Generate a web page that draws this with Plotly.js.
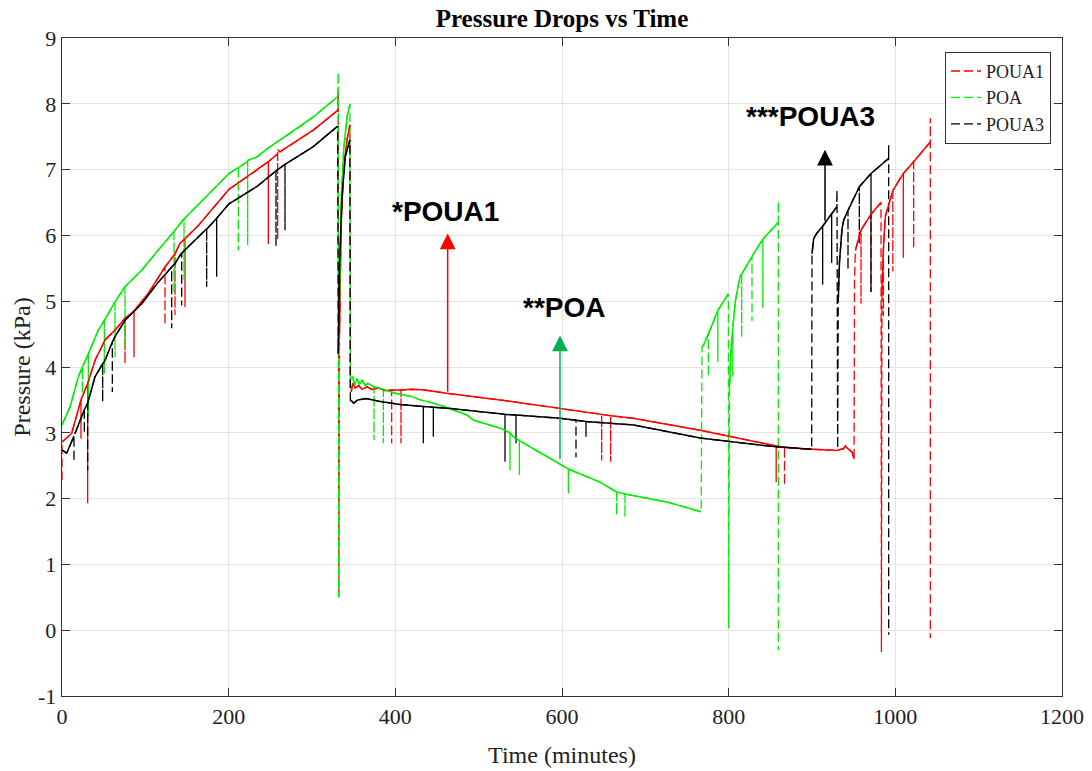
<!DOCTYPE html>
<html>
<head>
<meta charset="utf-8">
<script src="https://cdn.plot.ly/plotly-3.0.1.min.js"></script>
<style>html,body{margin:0;padding:0;background:#fff;}#chart{width:1092px;height:771px;}</style>
</head>
<body>
<div id="chart"></div>
<script>
// ---- POUA1 (red) : time (min) and pressure (kPa), spikes included as drawn ----
const poua1T = [0,0,11.6,22.8,22.8,22.8,30.8,30.8,30.8,39.6,51.6,63.6,75.6,75.6,75.6,86.4,86.4,86.4,103.6,123.6,123.6,123.6,135.6,135.6,135.6,141.6,147.6,147.6,147.6,163.6,200.4,233.6,247.6,247.6,247.6,258.8,258.8,258.8,261.6,285.6,301.6,330.8,331.5,332.2,333,335,338,342,345.5,346,
  347,349,352,356,360,366,372,380,388,395.6,395.6,395.6,406.8,406.8,406.8,420,435.6,461.6,525.6,597.6,647.6,647.6,647.6,658.4,658.4,658.4,685.6,765.6,853.6,857,857,857,867,867,867,885.6,929.6,938,940,943,948,950.5,951,952,958.8,958.8,958.8,970.8,970.8,970.8,982.8,983.3,984,985.7,985.7,985.7,988,997,997,997,1008,1009.6,1009.6,1009.6,1022,1022,1022,1042,1042,1042];
const poua1P = [2.28,2.86,2.99,3.50,2.91,3.50,3.75,1.93,3.75,4.10,4.41,4.56,4.74,4.05,4.74,4.85,4.15,4.85,5.12,5.52,4.64,5.52,5.72,4.79,5.72,5.88,5.95,4.91,5.95,6.15,6.70,6.99,7.12,5.87,7.12,7.24,5.93,7.30,7.27,7.47,7.60,7.90,8.2,0.5,4.5,6.2,7.0,7.45,7.68,3.70,
  3.62,3.75,3.68,3.72,3.66,3.70,3.66,3.68,3.64,3.65,2.84,3.65,3.65,2.84,3.65,3.66,3.65,3.60,3.50,3.37,3.28,2.58,3.28,3.26,2.56,3.26,3.22,3.04,2.81,2.80,2.25,2.80,2.78,2.20,2.78,2.76,2.73,2.76,2.80,2.76,2.71,2.60,5.30,5.77,6.08,4.96,6.08,6.32,5.14,6.32,6.50,-0.33,5.10,5.80,4.77,5.80,6.29,6.68,5.45,6.68,6.92,6.94,5.66,6.94,7.12,5.80,7.12,7.42,7.78,-0.12];

// ---- POA (green) ----
const poaT = [0,9.6,19.6,24.4,24.4,24.4,31.6,31.6,31.6,43.6,50.8,50.8,50.8,55.6,63.6,63.6,63.6,75.6,75.6,75.6,95.6,115.6,134.4,134.4,134.4,141.6,146.4,146.4,146.4,200.4,211.6,211.6,211.6,222.8,222.8,222.8,233.6,245.6,261.6,285.6,301.6,330.8,331.5,332,333,335,338,342,345.5,346,
  347,349,351,354,357,360,364,367,374.4,374.4,374.4,385.6,385.6,385.6,400,420,430,440,446,458,486,494,526,537.6,537.6,537.6,541.6,548.8,548.8,548.8,565.6,597.6,607.6,607.6,607.6,645.6,665.6,665.6,665.6,675.6,675.6,675.6,725.6,767,768,770.4,775.6,775.6,775.6,787,787,787,799.6,800,801,803,805,805,805,808,813.6,815.6,815.6,815.6,827.6,828,828,828,839.6,841,841,841,859.6,859.6,859.6];
const poaP = [3.12,3.39,3.85,4.00,3.60,4.00,4.20,3.25,4.20,4.56,4.71,3.90,4.71,4.81,4.99,4.15,4.99,5.22,4.31,5.22,5.47,5.78,6.06,5.12,6.06,6.18,6.25,5.32,6.25,6.94,7.03,5.77,7.03,7.12,5.85,7.14,7.19,7.31,7.45,7.65,7.80,8.11,8.48,0.5,5.0,6.5,7.3,7.8,8.0,3.80,
  3.83,3.85,3.72,3.82,3.74,3.80,3.72,3.75,3.70,2.89,3.70,3.66,2.84,3.66,3.60,3.55,3.50,3.47,3.45,3.40,3.27,3.19,3.07,3.00,2.43,3.00,2.94,2.88,2.36,2.88,2.76,2.53,2.45,2.08,2.45,2.25,2.10,1.75,2.10,2.07,1.72,2.07,1.95,1.80,4.30,4.35,4.50,3.85,4.50,4.86,4.08,4.86,5.11,0.03,3.70,4.30,4.60,3.85,4.60,5.00,5.37,5.41,4.45,5.41,5.67,5.68,4.70,5.68,5.92,5.94,4.90,5.94,6.20,6.52,-0.30];

// ---- POUA3 (black) ----
const poua3T = [0,5.6,14.4,14.4,14.4,15.6,26.8,26.8,26.8,30.8,30.8,30.8,39.6,48.8,48.8,48.8,51.6,60.4,60.4,60.4,63.6,75.6,95.6,115.6,131.6,131.6,131.6,135.6,141.6,143.6,143.6,143.6,155.6,173.6,173.6,173.6,175.6,185.6,185.6,185.6,200.4,233.6,256.8,256.8,256.8,267.6,267.6,267.6,285.6,301.6,330.8,331.5,333,336,340,345.5,346,
  347,350,355,365,380,406,433.6,433.6,433.6,445.6,445.6,445.6,466,526,531.6,531.6,531.6,544.8,544.8,544.8,598,616.8,616.8,616.8,628.8,628.8,628.8,686,766,854,899.6,900,902,905.6,912.8,912.8,912.8,923.6,923.6,923.6,929.6,930,930.8,931.5,933,936,938,943.2,943.2,943.2,956.8,956.8,956.8,970.8,970.8,970.8,992,992,992];
const poua3P = [2.74,2.69,2.95,2.56,2.95,2.99,3.35,2.99,3.35,3.45,2.43,3.45,3.85,4.05,3.47,4.05,4.10,4.38,3.62,4.38,4.46,4.71,4.96,5.29,5.52,4.59,5.52,5.57,5.70,5.73,4.94,5.73,5.88,6.10,5.22,6.10,6.12,6.26,5.37,6.26,6.48,6.74,6.98,5.83,6.98,7.08,6.08,7.08,7.22,7.35,7.66,4.20,5.5,6.6,7.2,7.45,3.45,
  3.49,3.45,3.50,3.52,3.48,3.43,3.40,2.84,3.40,3.39,2.94,3.39,3.37,3.29,3.28,2.56,3.28,3.27,2.84,3.27,3.22,3.19,2.63,3.19,3.17,2.94,3.17,3.12,2.92,2.79,2.75,5.72,5.95,6.03,6.14,5.25,6.14,6.33,5.58,6.33,6.43,6.69,2.76,5.00,5.60,6.10,6.23,6.38,5.48,6.38,6.74,5.87,6.74,6.94,5.14,6.94,7.17,7.37,-0.07];

const seriesNames = ['POUA1','POA','POUA3'];
const seriesColors = ['#ff0000','#00ee00','#000000'];

const xTickVals = [0,200,400,600,800,1000,1200];
const xTickText = ['0','200','400','600','800','1000','1200'];
const yTickVals = [-1,0,1,2,3,4,5,6,7,8,9];
const yTickText = ['-1','0','1','2','3','4','5','6','7','8','9'];

// annotation labels and arrows (data coordinates)
const labelText = ['*POUA1','**POA','***POUA3'];
const labelT = [460.6,602.2,897.6];
const labelP = [6.37,4.90,7.80];
const arrowT = [462.8,597.6,915.6];
const arrowTailP = [3.60,2.58,6.20];
const arrowHeadP = [6.03,4.48,7.30];
const arrowColors = ['#ff0000','#00b050','#000000'];

const serif = 'Liberation Serif, Times New Roman, serif';
const xs = [poua1T, poaT, poua3T];
const ys = [poua1P, poaP, poua3P];

// dashed trace = full recorded series (spikes and jumps appear dashed, as in the legend)
const traces = seriesNames.map((n,i)=>({
  type:'scatter', mode:'lines', name:n, x:xs[i], y:ys[i],
  line:{color:seriesColors[i], width:1.3, dash:'9px,4px'}
}));
// overlay: the slowly-varying parts of the same series look continuous (dense data)
seriesNames.forEach((n,i)=>{
  const ox=[], oy=[];
  const t=xs[i], p=ys[i];
  for(let k=0;k<t.length;k++){
    if(k>0 && (t[k]-t[k-1])<1.2){ ox.push(null); oy.push(null); }
    ox.push(t[k]); oy.push(p[k]);
  }
  traces.push({type:'scatter', mode:'lines', x:ox, y:oy, showlegend:false, connectgaps:false,
    line:{color:seriesColors[i], width:1.5}});
});

const annotations = [];
labelText.forEach((t,i)=>{
  annotations.push({x:labelT[i], y:labelP[i], xref:'x', yref:'y', text:t, showarrow:false,
    font:{family:'Liberation Sans, Arial, sans-serif', size:28, color:'#000', weight:'bold'},
    xanchor:'center', yanchor:'middle'});
  annotations.push({x:arrowT[i], y:arrowHeadP[i], ax:arrowT[i], ay:arrowTailP[i], xref:'x', yref:'y', axref:'x', ayref:'y',
    text:'', showarrow:true, arrowhead:2, arrowsize:2.1, arrowwidth:1.5, arrowcolor:arrowColors[i], standoff:0});
});

const layout = {
  width:1092, height:771,
  margin:{l:62, r:30, t:38, b:75},
  paper_bgcolor:'#fff', plot_bgcolor:'#fff',
  title:{text:'<b>Pressure Drops vs Time</b>', font:{family:serif, size:25, color:'#000'}, x:0.5, xref:'paper', y:1-18/771, yref:'container', yanchor:'middle'},
  xaxis:{range:[0,1200], tickvals:xTickVals, ticktext:xTickText, ticks:'inside', ticklen:8, tickcolor:'#333',
    showline:true, linecolor:'#333', linewidth:1.3, mirror:'ticks', showgrid:true, gridcolor:'#e4e4e4', zeroline:false,
    tickfont:{family:serif, size:22, color:'#222'},
    title:{text:'Time (minutes)', font:{family:serif, size:24, color:'#222'}, standoff:18}},
  yaxis:{range:[-1,9], tickvals:yTickVals, ticktext:yTickText, ticks:'inside', ticklen:8, tickcolor:'#333',
    showline:true, linecolor:'#333', linewidth:1.3, mirror:'ticks', showgrid:true, gridcolor:'#e4e4e4', zeroline:false,
    tickfont:{family:serif, size:22, color:'#222'},
    title:{text:'Pressure (kPa)', font:{family:serif, size:24, color:'#222'}, standoff:0}},
  legend:{x:0.989, xanchor:'right', y:0.979, yanchor:'top', bgcolor:'#fff', bordercolor:'#333', borderwidth:1,
    font:{family:serif, size:18, color:'#222'}, tracegroupgap:0},
  showlegend:true,
  annotations:annotations
};

Plotly.newPlot('chart', traces, layout, {staticPlot:true, displayModeBar:false});
</script>
</body>
</html>
